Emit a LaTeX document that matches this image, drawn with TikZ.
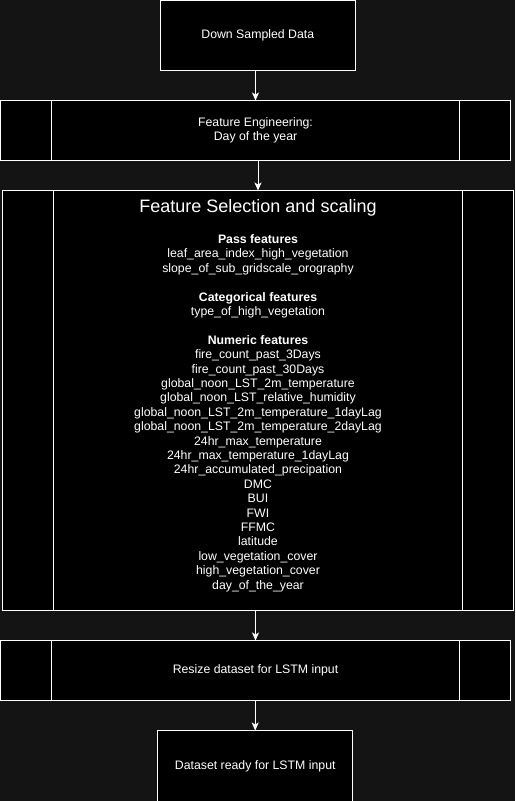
\documentclass[tikz,border=0pt]{standalone}
\usepackage{fontspec}
\setmainfont{Liberation Sans}
\usetikzlibrary{positioning, arrows.meta}
\definecolor{canvas}{HTML}{141414}

\begin{document}
\begin{tikzpicture}[
         x=1pt, y=-1pt,
         node distance=30pt,
         every node/.style={text=white, font=\fontsize{12.3pt}{14.4pt}\selectfont},
         block/.style={draw=white, fill=black, line width=1pt, outer sep=0pt, inner sep=0pt, align=center},
         terminal/.style={block, minimum width=195pt, minimum height=70pt},
         process/.style={block, minimum width=510pt, minimum height=60pt,
            path picture={
               \draw[white, line width=1pt] ([xshift=51pt]path picture bounding box.north west) -- ([xshift=51pt]path picture bounding box.south west);
               \draw[white, line width=1pt] ([xshift=-51pt]path picture bounding box.north east) -- ([xshift=-51pt]path picture bounding box.south east);
            }},
         flow/.style={draw=white, line width=1pt, -{Stealth[length=8pt, width=7pt, inset=2pt]}},
         heading/.style={inner sep=0pt, font=\fontsize{18pt}{21.6pt}\selectfont},
         featurelist/.style={inner sep=0pt, align=center}
      ]
         \useasboundingbox (0,0) rectangle (515,801);
         \fill[canvas] (0,0) rectangle (515,801);

         % Nodes for the pipeline steps
         \node[terminal] (down) at (257.8,35.5) {Down Sampled Data};
         \node[process] (eng) [below=30pt of down, xshift=-2.3pt] {Feature Engineering:\\Day of the year};
         \node[process, minimum width=511.3pt, minimum height=420pt] (select) [below=30pt of eng, xshift=2.5pt] {};
         \node[process] (resize) [below=30pt of select, xshift=-2.5pt] {Resize dataset for LSTM input};
         \node[terminal, minimum height=72pt] (ready) [below=30pt of resize, xshift=-0.3pt] {Dataset ready for LSTM input};

         % Text inside the selection step
         \node[heading] (title) [below=8.7pt of select.north] {Feature Selection and scaling};
         \node[featurelist] (features) [below=43.8pt of select.north] {
            \textbf{Pass features}\\
            leaf\_area\_index\_high\_vegetation\\
            slope\_of\_sub\_gridscale\_orography\\[14.4pt]
            \textbf{Categorical features}\\
            type\_of\_high\_vegetation\\[14.4pt]
            \textbf{Numeric features}\\
            fire\_count\_past\_3Days\\
            fire\_count\_past\_30Days\\
            global\_noon\_LST\_2m\_temperature\\
            global\_noon\_LST\_relative\_humidity\\
            global\_noon\_LST\_2m\_temperature\_1dayLag\\
            global\_noon\_LST\_2m\_temperature\_2dayLag\\
            24hr\_max\_temperature\\
            24hr\_max\_temperature\_1dayLag\\
            24hr\_accumulated\_precipation\\
            DMC\\
            BUI\\
            FWI\\
            FFMC\\
            latitude\\
            low\_vegetation\_cover\\
            high\_vegetation\_cover\\
            day\_of\_the\_year
         };

         % Arrows between the steps
         \draw[flow] (eng.north |- down.south) -- (eng.north);
         \draw[flow] (select.north |- eng.south) -- (select.north);
         \draw[flow] (resize.north |- select.south) -- (resize.north);
         \draw[flow] (ready.north |- resize.south) -- (ready.north);
      \end{tikzpicture}
\end{document}
